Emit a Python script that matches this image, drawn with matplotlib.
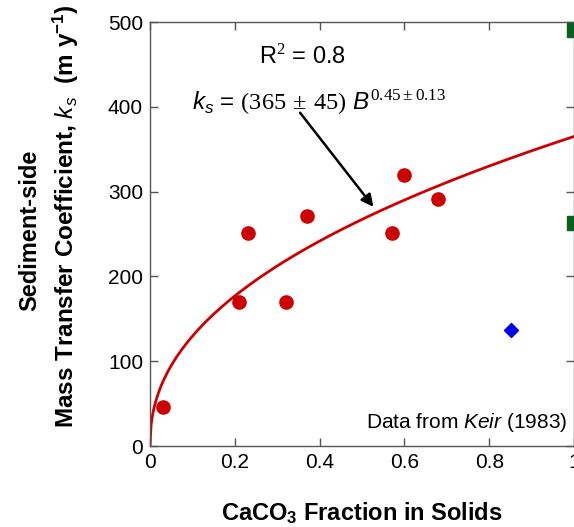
import numpy as np
import matplotlib.pyplot as plt

plt.rcParams['font.family'] = ['Liberation Sans', 'DejaVu Sans']
plt.rcParams['mathtext.fontset'] = 'custom'
plt.rcParams['mathtext.rm'] = 'Liberation Serif'
plt.rcParams['mathtext.it'] = 'Liberation Sans:italic'
plt.rcParams['mathtext.bf'] = 'Liberation Sans:bold'
plt.rcParams['mathtext.sf'] = 'Liberation Sans'

# Keir (1983) data
caco3 = [0.03, 0.21, 0.23, 0.32, 0.37, 0.57, 0.60, 0.68]
ks = [46, 170, 251, 170, 271, 251, 320, 291]
blue_x = [0.852]
blue_y = [137]
green_x = [1.0, 1.0]
green_y = [491, 263]

# fit: ks = a * B^b
fit_a = 365
fit_b = 0.45

xticks = [0, 0.2, 0.4, 0.6, 0.8, 1]
xticklabels = ['0', '0.2', '0.4', '0.6', '0.8', '1']
yticks = [0, 100, 200, 300, 400, 500]

fig = plt.figure(figsize=(5.74, 5.27), dpi=100)
ax = fig.add_axes([150/574, 1-446/527, 424/574, 424/527])

B = np.linspace(0, 1, 400)
ax.plot(B, fit_a*B**fit_b, color='#cc0000', lw=2, zorder=2)
ax.plot(caco3, ks, 'o', color='#cc0000', ms=9.5, mec='#cc0000', zorder=3)
ax.plot(blue_x, blue_y, 'D', color='#0000ee', ms=7, zorder=3)
ax.plot(green_x, green_y, 's', color='#0b5e1e', ms=10, zorder=3, clip_on=False)

ax.set_xlim(0, 1)
ax.set_ylim(0, 500)
ax.set_xticks(xticks)
ax.set_xticklabels(xticklabels)
ax.set_yticks(yticks)
ax.tick_params(direction='in', length=6, width=1, color='#555555',
               top=True, right=True, labelsize=15, pad=5)
for s in ax.spines.values():
    s.set_color('#555555')
    s.set_linewidth(1)

ax.text(0.36, 460, r'R$^2$ = 0.8', fontsize=17, ha='center', va='center')
ax.text(0.10, 405, r'$k_s$ = $\mathrm{(365\,\pm\,45)}$ $B^{\mathrm{0.45\pm0.13}}$',
        fontsize=17.5, ha='left', va='center')
ax.annotate('', xy=(0.527, 282), xytext=(0.354, 393),
            arrowprops=dict(arrowstyle='-|>', color='black', lw=1.8,
                            mutation_scale=18, shrinkA=0, shrinkB=0))
ax.text(0.985, 28, r'Data from $\mathit{Keir}$ (1983)', fontsize=15,
        ha='right', va='center')

ax.set_xlabel(r'CaCO$_\mathbf{3}$ Fraction in Solids', fontsize=17,
              fontweight='bold', labelpad=20)
fig.text(30/574, 1-230/527, 'Sediment-side', rotation=90, fontsize=17,
         fontweight='bold', ha='center', va='center')
fig.text(66/574, 1-216/527,
         r'Mass Transfer Coefficient, $\mathbf{\mathit{k}_{\mathit{s}}}$  (m y$^\mathbf{-1}$)',
         rotation=90, fontsize=17.5, fontweight='bold', ha='center', va='center')

fig.savefig('out.png', dpi=100)
